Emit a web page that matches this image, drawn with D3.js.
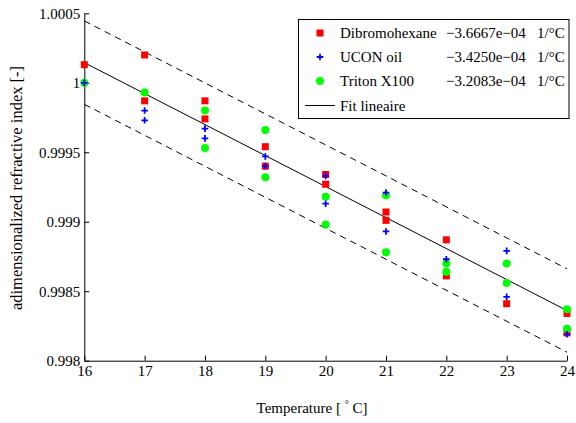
<!DOCTYPE html>
<html>
<head>
<meta charset="utf-8">
<script src="https://cdn.jsdelivr.net/npm/d3@7/dist/d3.min.js"></script>
<style>
  html, body { margin: 0; padding: 0; background: #fff; }
  svg { display: block; }
  text { font-family: "Liberation Serif", "Times New Roman", Times, serif; fill: #000; }
</style>
</head>
<body>
<svg id="chart" width="576" height="423"></svg>
<script>
// Temperatures (°C) at which the refractive index was measured
const temps = [16, 17, 18, 19, 20, 21, 22, 23, 24];

// Normalised refractive index, two runs per liquid (null = no point)
const dibromoRun1 = [1.00013, 1.00020, 0.99987, 0.99954, 0.99934, 0.99907, 0.99887, 0.99841, 0.99834];
const dibromoRun2 = [null,    0.99987, 0.99974, 0.99940, 0.99927, 0.99901, 0.99861, null,    0.99820];
const uconRun1    = [1.00000, 0.99980, 0.99967, 0.99947, 0.99933, 0.99921, 0.99873, 0.99879, 0.99819];
const uconRun2    = [null,    0.99973, 0.99960, 0.99940, 0.99913, 0.99893, null,    0.99846, null];
const tritonRun1  = [1.00000, 0.99993, 0.99980, 0.99966, 0.99918, 0.99919, 0.99870, 0.99870, 0.99837];
const tritonRun2  = [null,    null,    0.99953, 0.99932, 0.99898, 0.99878, 0.99864, 0.99856, 0.99823];

// Linear fit through all points, with a ± band
const fitValueAt16 = 1.000145;
const fitSlope = -2.23e-4;      // per °C
const bandHalfWidth = 3.0e-4;

// Legend entries
const seriesNames  = ["Dibromohexane", "UCON oil", "Triton X100"];
const seriesCoeffs = ["\u22123.6667e\u221204", "\u22123.4250e\u221204", "\u22123.2083e\u221204"];
const coeffUnit = "1/\u00B0C";
const fitLabel = "Fit lineaire";

// Axis ticks
const xTicks = [16, 17, 18, 19, 20, 21, 22, 23, 24];
const yTicks = [0.998, 0.9985, 0.999, 0.9995, 1, 1.0005];
const yTickLabels = ["0.998", "0.9985", "0.999", "0.9995", "1", "1.0005"];

const serif = '"Liberation Serif", "Times New Roman", Times, serif';
const svg = d3.select("#chart");
svg.append("rect").attr("width", 576).attr("height", 423).attr("fill", "#fff");

const x = d3.scaleLinear().domain([16, 24]).range([84.3, 567]);
const y = d3.scaleLinear().domain([0.998, 1.0005]).range([360.7, 13.3]);

// Axes (left and bottom only, ticks pointing inward)
const xAxis = d3.axisBottom(x).tickValues(xTicks).tickFormat(d3.format("d"))
  .tickSizeInner(-5).tickSizeOuter(0).tickPadding(5);
const yAxis = d3.axisLeft(y).tickValues(yTicks).tickFormat((d, i) => yTickLabels[i])
  .tickSizeInner(-5).tickSizeOuter(0).tickPadding(4);

const gx = svg.append("g").attr("transform", `translate(0,${y.range()[0]})`).call(xAxis);
const gy = svg.append("g").attr("transform", `translate(${x.range()[0]},0)`).call(yAxis);
[gx, gy].forEach(g => {
  g.attr("font-family", serif);
  g.selectAll("path, line").attr("stroke", "#000").attr("stroke-width", 1);
  g.selectAll("text").attr("font-size", 15).attr("fill", "#000");
});

// Fit line and dashed band
const fitAt = t => fitValueAt16 + fitSlope * (t - 16);
const line = d3.line().x(d => x(d[0])).y(d => y(d[1]));
const ends = [16, 24];
svg.append("path").attr("d", line(ends.map(t => [t, fitAt(t)])))
  .attr("fill", "none").attr("stroke", "#000").attr("stroke-width", 1);
[1, -1].forEach(s => {
  svg.append("path").attr("d", line(ends.map(t => [t, fitAt(t) + s * bandHalfWidth])))
    .attr("fill", "none").attr("stroke", "#000").attr("stroke-width", 1)
    .attr("stroke-dasharray", "6.5,5");
});

// Markers
const pairs = arr => temps.map((t, i) => [t, arr[i]]).filter(d => d[1] !== null);
const markers = svg.append("g");

function drawSquares(data) {
  markers.selectAll(null).data(data).enter().append("rect")
    .attr("x", d => x(d[0]) - 3.5).attr("y", d => y(d[1]) - 3.5)
    .attr("width", 7).attr("height", 7).attr("fill", "#ff0000");
}
function drawCircles(data) {
  markers.selectAll(null).data(data).enter().append("circle")
    .attr("cx", d => x(d[0])).attr("cy", d => y(d[1])).attr("r", 4)
    .attr("fill", "#00ff00");
}
function drawPluses(data) {
  markers.selectAll(null).data(data).enter().append("path")
    .attr("d", d => { const cx = x(d[0]), cy = y(d[1]);
      return `M${cx - 3.3},${cy}H${cx + 3.3}M${cx},${cy - 3.3}V${cy + 3.3}`; })
    .attr("stroke", "#0000ff").attr("stroke-width", 1.8).attr("fill", "none");
}
drawSquares(pairs(dibromoRun1).concat(pairs(dibromoRun2)));
drawCircles(pairs(tritonRun1).concat(pairs(tritonRun2)));
drawPluses(pairs(uconRun1).concat(pairs(uconRun2)));

// Axis titles
svg.append("text").attr("x", 312).attr("y", 413).attr("text-anchor", "middle")
  .attr("font-size", 15).attr("font-family", serif)
  .call(t => {
    t.append("tspan").text("Temperature [ ");
    t.append("tspan").attr("font-size", 10).attr("dy", -5).text("\u00B0");
    t.append("tspan").attr("dy", 5).text(" C]");
  });
svg.append("text").attr("transform", "translate(22,188) rotate(-90)")
  .attr("text-anchor", "middle").attr("font-size", 16.5).attr("font-family", serif)
  .text("adimensionalized refractive index [-]");

// Legend
const lg = svg.append("g").attr("font-family", serif);
lg.append("rect").attr("x", 298.5).attr("y", 19.5).attr("width", 270.5).attr("height", 99)
  .attr("fill", "#fff").attr("stroke", "#000").attr("stroke-width", 1);
const rowY = [33, 57, 81, 105.5];
const symX = 320;
lg.append("rect").attr("x", symX - 3.5).attr("y", rowY[0] - 3.5).attr("width", 7).attr("height", 7).attr("fill", "#ff0000");
lg.append("path").attr("d", `M${symX - 3.3},${rowY[1]}H${symX + 3.3}M${symX},${rowY[1] - 3.3}V${rowY[1] + 3.3}`)
  .attr("stroke", "#0000ff").attr("stroke-width", 1.8);
lg.append("circle").attr("cx", symX).attr("cy", rowY[2]).attr("r", 4).attr("fill", "#00ff00");
lg.append("line").attr("x1", 305).attr("x2", 335).attr("y1", rowY[3]).attr("y2", rowY[3])
  .attr("stroke", "#000").attr("stroke-width", 1);
seriesNames.forEach((n, i) => {
  lg.append("text").attr("x", 340).attr("y", rowY[i] + 5).attr("font-size", 15).text(n);
  lg.append("text").attr("x", 446).attr("y", rowY[i] + 5).attr("font-size", 15).text(seriesCoeffs[i]);
  lg.append("text").attr("x", 537).attr("y", rowY[i] + 5).attr("font-size", 15).text(coeffUnit);
});
lg.append("text").attr("x", 340).attr("y", rowY[3] + 5).attr("font-size", 15).text(fitLabel);
</script>
</body>
</html>
